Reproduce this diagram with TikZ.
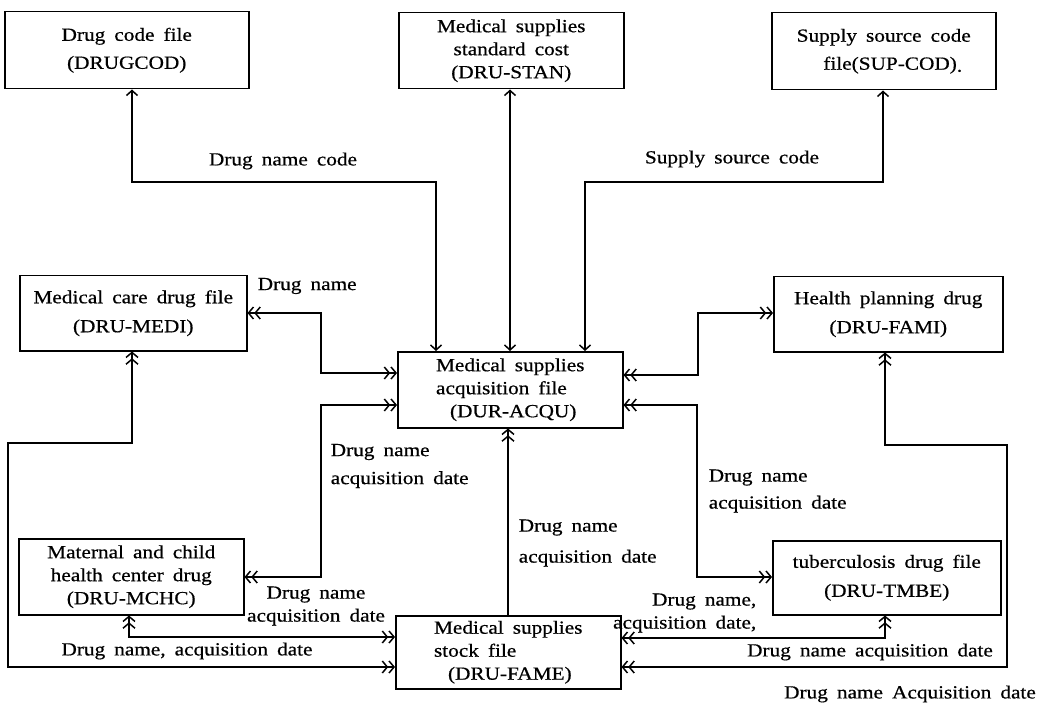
\documentclass[tikz,border=0pt]{standalone}
\usepackage{fontspec}
\setmainfont{Liberation Serif}[FakeStretch=1.15, WordSpace={1.7}, FakeBold=0.6]
\usetikzlibrary{arrows.meta}
\newcommand\dfont{\fontsize{18.5}{23}\selectfont}
\tikzset{
  x=1pt, y=-1pt,
  every path/.style={line width=1.5pt},
  file/.style={draw, line width=1.5pt, anchor=north west, inner sep=0pt,
    align=center, font=\dfont},
  lbl/.style={inner sep=0pt, font=\dfont},
  sgl/.style={arrows={Straight Barb[length=5pt,width=11pt]-Straight Barb[length=5pt,width=11pt]}},
  dbl/.style={arrows={Straight Barb[length=5pt,width=12pt] Straight Barb[length=5pt,width=12pt]-Straight Barb[length=5pt,width=12pt] Straight Barb[length=5pt,width=12pt]}},
  dblend/.style={arrows={-Straight Barb[length=5pt,width=12pt] Straight Barb[length=5pt,width=12pt]}},
}
\begin{document}
\begin{tikzpicture}
\useasboundingbox (0,0) rectangle (1052,711);

% data files
\node[file, minimum width=244pt, minimum height=77pt] (drugcod) at (4,11)
  {Drug code file\\[5pt](DRUGCOD)};
\node[file, minimum width=225pt, minimum height=76pt] (stan) at (398,12)
  {Medical supplies\\standard cost\\(DRU-STAN)};
\node[file, minimum width=224pt, minimum height=77pt] (supcod) at (771,12)
  {Supply source code\\[5pt]\hspace*{18pt}file(SUP-COD)\raisebox{-2pt}{.}};
\node[file, minimum width=227pt, minimum height=75pt] (medi) at (19,275)
  {Medical care drug file\\[6pt](DRU-MEDI)};
\node[file, minimum width=225pt, minimum height=76pt, align=left] (acqu) at (397,351)
  {Medical supplies\\acquisition file\\\hspace*{14pt}(DUR-ACQU)};
\node[file, minimum width=229pt, minimum height=75pt] (fami) at (773,276)
  {Health planning drug\\[6pt](DRU-FAMI)};
\node[file, minimum width=225pt, minimum height=76pt] (mchc) at (18,538)
  {Maternal and child\\health center drug\\(DRU-MCHC)};
\node[file, minimum width=225pt, minimum height=73pt, align=left] (fame) at (395,615)
  {Medical supplies\\stock file\\\hspace*{14pt}(DRU-FAME)};
\node[file, minimum width=228pt, minimum height=74pt] (tmbe) at (772,540)
  {tuberculosis drug file\\[6pt](DRU-TMBE)};

% code look-ups
\draw[sgl] (132,0 |- drugcod.south) -- (132,182) -- (436,182) -- (436,0 |- acqu.north);
\draw[sgl] (510,0 |- stan.south) -- (510,0 |- acqu.north);
\draw[sgl] (585,0 |- acqu.north) -- (585,182) -- (883,182) -- (883,0 |- supcod.south);

% exchanges with the acquisition file
\draw[dbl] (medi.east |- 0,313) -- (321,313) -- (321,373) -- (acqu.west |- 0,373);
\draw[dbl] (acqu.west |- 0,405) -- (321,405) -- (321,577) -- (mchc.east |- 0,577);
\draw[dbl] (acqu.east |- 0,375) -- (698,375) -- (698,313) -- (fami.west |- 0,313);
\draw[dbl] (acqu.east |- 0,405) -- (697,405) -- (697,577) -- (tmbe.west |- 0,577);
\draw[dblend] (508,0 |- fame.north) -- (508,0 |- acqu.south);

% exchanges with the stock file
\draw[dbl] (132,0 |- medi.south) -- (132,443) -- (8,443) -- (8,667) -- (fame.west |- 0,667);
\draw[dbl] (129,0 |- mchc.south) -- (129,637) -- (fame.west |- 0,637);
\draw[dbl] (885,0 |- tmbe.south) -- (885,638) -- (fame.east |- 0,638);
\draw[dbl] (885,0 |- fami.south) -- (885,445) -- (1007,445) -- (1007,667) -- (fame.east |- 0,667);

% flow labels
\node[lbl] (l1) at (283,161) {Drug name code};
\node[lbl] (l2) at (732,159) {Supply source code};
\node[lbl, anchor=west] (l3) at (257,286) {Drug name};
\node[lbl, anchor=west, align=left] (l4) at (330,466) {Drug name\\[5pt]acquisition date};
\node[lbl, align=center] (l5) at (316,606) {Drug name\\acquisition date};
\node[lbl] (l6) at (187,651) {Drug name, acquisition date};
\node[lbl, anchor=west, align=left] (l7) at (518,543) {Drug name\\[8pt]acquisition date};
\node[lbl, anchor=west, align=left] (l8) at (708,491) {Drug name\\[4pt]acquisition date};
\node[lbl, anchor=east, align=right] (l9) at (757,613) {Drug name,\\acquisition date,};
\node[lbl] (l10) at (870,652) {Drug name acquisition date};
\node[lbl] (l11) at (910,694) {Drug name Acquisition date};
\end{tikzpicture}
\end{document}
